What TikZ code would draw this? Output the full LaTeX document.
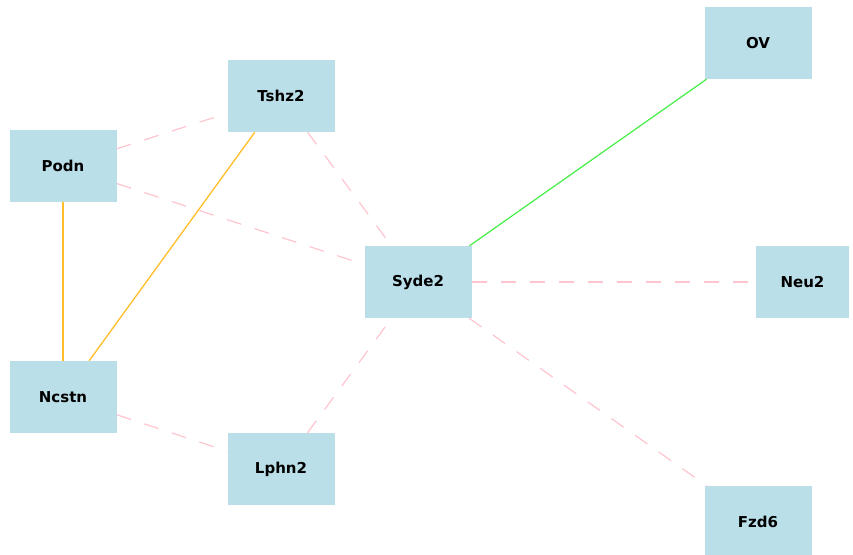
\documentclass[tikz,border=0pt]{standalone}
\usepackage{fontspec}
\setmainfont{DejaVu Sans}
\definecolor{boxblue}{HTML}{BBDFE9}
\definecolor{linkpink}{HTML}{FFC4CE}
\definecolor{linkorange}{HTML}{FFBE28}
\definecolor{linkgreen}{HTML}{44EE44}
\tikzset{
  gene/.style={fill=boxblue, text=black, shape=rectangle, inner sep=0pt, minimum width=107pt, minimum height=72pt, font=\fontsize{15}{18}\selectfont\bfseries},
  weak/.style={draw=linkpink, line width=1.2pt, dash pattern=on 15pt off 14pt},
  bind/.style={draw=linkorange, line width=1.3pt},
  act/.style={draw=linkgreen, line width=1.2pt}
}
\begin{document}
\begin{tikzpicture}[x=1pt, y=-1pt]
	\useasboundingbox (0,0) rectangle (853,554);

	\node[gene] (g_ov) at (758,43) {OV};
	\node[gene] (g_tshz2) at (281,96) {Tshz2};
	\node[gene] (g_podn) at (63,166) {Podn};
	\node[gene] (g_syde2) at (418,282) {Syde2};
	\node[gene, minimum width=93pt] (g_neu2) at (802.5,282) {Neu2};
	\node[gene] (g_ncstn) at (63,397) {Ncstn};
	\node[gene] (g_lphn2) at (281,469) {Lphn2};
	\node[gene] (g_fzd6) at (758,522) {Fzd6};

	\draw[weak] (g_podn) -- (g_tshz2);
	\draw[weak] (g_podn) -- (g_syde2);
	\draw[weak] (g_tshz2) -- (g_syde2);
	\draw[weak] (g_ncstn) -- (g_lphn2);
	\draw[weak] (g_lphn2) -- (g_syde2);
	\draw[weak] (g_syde2) -- (g_neu2);
	\draw[weak] (g_syde2) -- (g_fzd6);
	\draw[bind] (g_podn) -- (g_ncstn);
	\draw[bind] (g_tshz2) -- (g_ncstn);
	\draw[act] (g_syde2) -- (g_ov);
\end{tikzpicture}
\end{document}
